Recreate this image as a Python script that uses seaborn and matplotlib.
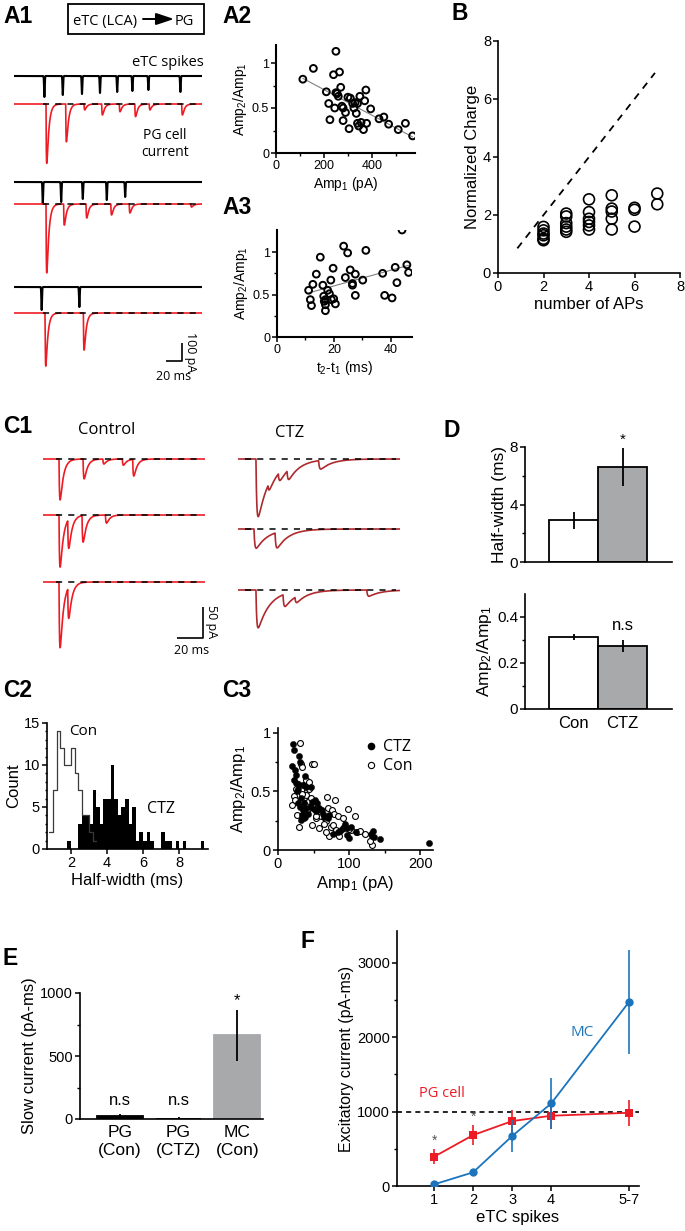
import numpy as np
import pandas as pd
import matplotlib
matplotlib.use("Agg")
import matplotlib.pyplot as plt
import seaborn as sns
from matplotlib.ticker import MultipleLocator, FixedLocator
from matplotlib.lines import Line2D
from matplotlib.patches import Rectangle

# ---------------------------------------------------------------- data
# A1: eTC spikes (black) and PG cell EPSCs (red), three sweeps
a1_spike_times = [[38, 61, 85, 107.5, 129, 148, 168, 208],
                  [36, 59, 86, 116, 139],
                  [34.6, 81.7]]
a1_spike_size = [[21, 19, 18, 17, 16, 15, 14, 16],
                 [22, 20, 17, 18, 15],
                 [23, 20]]
a1_epsc_times = [[40, 64.6, 87.5, 109.6, 131.6, 151, 169, 209.6],
                 [40, 62, 90, 121, 144, 221],
                 [38.75, 86.7]]
a1_epsc_amps = [[330, 210, 33, 61, 43, 70, 33, 61],
                [383, 117, 78, 61, 50, 17],
                [295, 206]]

# A2
a2_amp1 = [112, 156, 250, 240, 265, 270, 250, 255, 210, 220, 245, 225, 275, 280,
           300, 310, 290, 280, 305, 325, 330, 335, 340, 345, 350, 355, 365, 370,
           375, 378, 395, 320, 430, 450, 470, 510, 540, 570, 340, 260]
a2_ratio = [0.82, 0.94, 1.13, 0.87, 0.90, 0.73, 0.67, 0.66, 0.68, 0.55, 0.50, 0.37,
            0.52, 0.50, 0.62, 0.61, 0.45, 0.36, 0.27, 0.50, 0.56, 0.44, 0.33, 0.30,
            0.63, 0.34, 0.26, 0.58, 0.70, 0.33, 0.49, 0.55, 0.38, 0.40, 0.32, 0.26,
            0.33, 0.19, 0.55, 0.63]

# A3
a3_dt = [11.1, 11.7, 12.1, 12.6, 13.8, 15.2, 16.1, 16.4, 17.0, 17.0, 17.0, 17.8,
         18.4, 18.9, 19.1, 19.9, 19.7, 20.5, 16.6, 23.4, 24.0, 24.8, 25.7, 26.5,
         26.5, 27.5, 27.5, 30.1, 31.2, 37.1, 37.8, 40.4, 41.5, 42.1, 43.9, 45.6, 46.2]
a3_ratio = [0.55, 0.44, 0.37, 0.62, 0.74, 0.94, 0.61, 0.48, 0.44, 0.38, 0.31, 0.55,
            0.51, 0.67, 0.44, 0.45, 0.81, 0.39, 0.42, 1.07, 0.70, 0.99, 0.79, 0.63,
            0.61, 0.74, 0.49, 0.67, 1.02, 0.75, 0.49, 0.46, 0.82, 0.64, 1.26, 0.85, 0.76]

# B
b_naps = [2, 2, 2, 2, 2, 2, 3, 3, 3, 3, 3, 3, 4, 4, 4, 4, 4, 4, 5, 5, 5, 5, 5, 6, 6, 6, 7, 7]
b_charge = [1.59, 1.47, 1.36, 1.30, 1.18, 1.13, 2.05, 1.95, 1.72, 1.60, 1.50, 1.42,
            2.54, 2.10, 1.87, 1.76, 1.64, 1.50, 2.68, 2.22, 2.12, 1.87, 1.50,
            2.25, 2.18, 1.60, 2.74, 2.37]
b_linear = [0.85, 6.9]

# C1: EPSC events (ms, pA)
ctl_times = [[12.3, 30.8, 46, 61, 69], [12.3, 19, 30, 48], [12.3, 19]]
ctl_amps = [[66, 32, 8, 10, 27], [84, 47, 43, 13], [106, 50]]
ctz_times = [[13.8, 23, 31, 37.7, 62], [12.3, 28.5], [13.8, 34.6, 43.8, 99]]
ctz_amps = [[93, 12, 14, 16, 14], [31, 25], [61, 20, 10, 10]]
ctl_tau = (0.4, 2.5)
ctz_tau = (0.6, 9.0)

# C2: half-width histograms (0.2 ms bins)
bin_width = 0.2
con_bin_start = 0.8
con_counts = [2, 7, 14, 12, 10, 10, 12, 9, 7, 4, 4, 2, 1]
ctz_bin_start = 1.8
ctz_counts = [1, 0, 0, 3, 4, 4, 3, 7, 5, 3, 6, 6, 10, 6, 4, 5, 6, 3, 5, 1, 2, 1, 2,
              1, 0, 0, 2, 1, 1, 0, 1, 0, 1, 0, 0, 0, 0, 1]

# C3
c3_ctz_amp1 = [21, 22, 20, 24, 25, 22, 29, 31, 38, 26, 30, 28, 27, 35, 40, 47, 33,
               36, 28, 31, 35, 40, 45, 42, 34, 37, 32, 38, 48, 52, 55, 58, 50, 53,
               62, 63, 65, 70, 72, 77, 84, 87, 90, 93, 97, 100, 102, 110, 131, 132,
               135, 133, 143, 212, 97, 94]
c3_ctz_ratio = [0.90, 0.85, 0.72, 0.68, 0.64, 0.60, 0.80, 0.75, 0.63, 0.57, 0.55,
                0.52, 0.50, 0.55, 0.54, 0.54, 0.44, 0.40, 0.40, 0.37, 0.34, 0.36,
                0.37, 0.31, 0.30, 0.27, 0.26, 0.28, 0.41, 0.43, 0.40, 0.36, 0.35,
                0.33, 0.34, 0.31, 0.28, 0.27, 0.30, 0.14, 0.15, 0.16, 0.18, 0.19,
                0.13, 0.10, 0.20, 0.15, 0.14, 0.12, 0.11, 0.16, 0.09, 0.06, 0.19, 0.22]
c3_con_amp1 = [19, 22, 24, 27, 30, 31, 33, 34, 28, 36, 41, 43, 48, 50, 38, 40, 44,
               46, 52, 55, 58, 61, 64, 54, 60, 66, 68, 69, 80, 71, 76, 79, 85, 91,
               98, 108, 74, 78, 82, 72, 86, 102, 111, 115, 123, 132, 130, 58, 48,
               64, 93, 100, 34, 26, 39, 44, 36, 42, 53, 68]
c3_con_ratio = [0.38, 0.46, 0.43, 0.30, 0.20, 0.91, 0.73, 0.71, 0.56, 0.55, 0.51,
                0.52, 0.73, 0.73, 0.45, 0.47, 0.42, 0.44, 0.37, 0.36, 0.33, 0.31,
                0.29, 0.27, 0.29, 0.27, 0.25, 0.45, 0.43, 0.36, 0.34, 0.31, 0.29,
                0.27, 0.35, 0.29, 0.20, 0.21, 0.17, 0.12, 0.12, 0.17, 0.15, 0.16,
                0.14, 0.04, 0.08, 0.19, 0.21, 0.22, 0.20, 0.18, 0.48, 0.52, 0.60,
                0.58, 0.34, 0.35, 0.29, 0.15]

# D
d_groups = ["Con", "CTZ"]
d_halfwidth = [2.9, 6.6]
d_halfwidth_err = [0.6, 1.3]
d_ratio = [0.313, 0.274]
d_ratio_err = [0.015, 0.028]

# E
e_groups = ["PG\n(Con)", "PG\n(CTZ)", "MC\n(Con)"]
e_slow = [20, 2, 663]
e_slow_err = [20, 15, 205]
e_marks = ["n.s", "n.s", "*"]

# F
f_labels = ["1", "2", "3", "4", "5-7"]
f_pos = [1, 2, 3, 4, 6]
f_pg = [394, 685, 873, 945, 985]
f_pg_err = [100, 135, 150, 180, 175]
f_mc = [22, 184, 672, 1110, 2480]
f_mc_err = [30, 40, 220, 340, 700]
f_ref = 1000

# ---------------------------------------------------------------- style
W, H = 685, 1231
sns.set_theme(style="ticks")
plt.rcParams["font.family"] = ["Liberation Sans", "DejaVu Sans"]
plt.rcParams.update({
    "mathtext.fontset": "custom",
    "mathtext.rm": "Liberation Sans",
    "mathtext.it": "Liberation Sans:italic",
    "mathtext.bf": "Liberation Sans:bold",
    "axes.edgecolor": "black", "axes.linewidth": 1.2,
    "xtick.color": "black", "ytick.color": "black",
    "xtick.major.width": 1.1, "ytick.major.width": 1.1,
    "xtick.minor.width": 1.0, "ytick.minor.width": 1.0,
    "xtick.major.size": 3.5, "ytick.major.size": 3.5,
    "xtick.minor.size": 2.0, "ytick.minor.size": 2.0,
    "xtick.major.pad": 1.5, "ytick.major.pad": 1.5,
    "axes.labelcolor": "black", "text.color": "black",
    "axes.labelpad": 2.0,
})
SANS2 = ["Open Sans", "DejaVu Sans"]
RED = "#ed1c24"
DRED = "#ad2a2e"
BLUE = "#1c75bc"
GRAY = "#a7a9ac"

fig = plt.figure(figsize=(W / 100, H / 100), dpi=100)


def px_axes(l, t, r, b):
    return fig.add_axes([l / W, 1 - b / H, (r - l) / W, (b - t) / H])


def style(ax, ls=9.5):
    sns.despine(ax=ax)
    ax.set_facecolor("none")
    ax.tick_params(labelsize=ls, which="both", direction="out")


# overlay in pixel coordinates for panel letters, scale bars, annotations
ov = fig.add_axes([0, 0, 1, 1], zorder=10)
ov.set_xlim(0, W)
ov.set_ylim(H, 0)
ov.axis("off")
ov.patch.set_alpha(0)

for lab, x, y in [("A1", 3, 23), ("A2", 222, 23), ("B", 452, 20), ("A3", 222, 214),
                  ("C1", 3, 433), ("D", 444, 437), ("C2", 3, 697), ("C3", 222, 697),
                  ("E", 3, 965), ("F", 301, 948)]:
    ov.text(x, y, lab, fontsize=16.5, fontweight="bold", va="baseline", ha="left")


# ---------------------------------------------------------------- traces
def kernel(t, t0, tr, td):
    s = t - t0
    out = np.zeros_like(t)
    m = s >= 0
    tp = tr * td / (td - tr) * np.log(td / tr)
    norm = np.exp(-tp / td) - np.exp(-tp / tr)
    out[m] = (np.exp(-s[m] / td) - np.exp(-s[m] / tr)) / norm
    return out


def trace_ax(x0, x1, tspan, ybase, per_px, up, down):
    ax = px_axes(x0, ybase - up, x1, ybase + down)
    ax.set_xlim(0, tspan)
    ax.set_ylim(-down * per_px, up * per_px)
    ax.axis("off")
    ax.patch.set_alpha(0)
    return ax


# A1
a1_span = 235.0
t1 = np.arange(0, a1_span, 0.1)
black_base = [76, 182, 287]
red_base = [104, 204, 313]
for i in range(3):
    axb = trace_ax(14, 202, a1_span, black_base[i], 1.0, 6, 28)
    yb = np.zeros_like(t1)
    for ts, sz in zip(a1_spike_times[i], a1_spike_size[i]):
        yb -= sz * np.exp(-((t1 - ts) / 0.6) ** 2)
    axb.plot(t1, yb, color="black", lw=1.5)
    axr = trace_ax(14, 202, a1_span, red_base[i], 100 / 18, 6, 75)
    yr = np.zeros_like(t1)
    for te, am in zip(a1_epsc_times[i], a1_epsc_amps[i]):
        yr -= am * kernel(t1, te, 0.45, 2.6)
    axr.plot(t1, yr, color=RED, lw=1.2)
    axr.plot([36, a1_span], [0, 0], color="black", lw=1.1, ls=(0, (4, 4)))

# A1 header box
ov.add_patch(Rectangle((68, 4), 136, 30, fill=False, lw=1.3, ec="black"))
ov.text(73, 25, "eTC (LCA)", fontsize=10.5, family=SANS2, va="baseline")
ov.annotate("", xy=(174, 19), xytext=(143, 19),
            arrowprops=dict(arrowstyle="-|>,head_length=0.9,head_width=0.3",
                            lw=1.4, color="black", shrinkA=0, shrinkB=0))
ov.text(175, 25, "PG", fontsize=10.5, family=SANS2, va="baseline")
ov.text(204, 66, "eTC spikes", fontsize=10.5, family=SANS2, va="baseline", ha="right")
ov.text(165, 139, "PG cell", fontsize=10, family=SANS2, va="baseline", ha="center")
ov.text(165, 156, "current", fontsize=10, family=SANS2, va="baseline", ha="center")
# A1 scale bar
ov.plot([182, 182, 166], [343, 361, 361], color="black", lw=1.2, solid_capstyle="butt")
ov.text(191, 352, "100 pA", rotation=270, fontsize=9, family=SANS2, va="center", ha="center")
ov.text(174, 377, "20 ms", fontsize=9, family=SANS2, va="center", ha="center")

# C1
c1_span = 162 / 1.3
tc = np.arange(0, c1_span, 0.05)
ctl_base = [459, 515, 582]
ctz_base = [459, 529, 590]
for i in range(3):
    ax = trace_ax(43, 205, c1_span, ctl_base[i], 50 / 31, 6, 70)
    y = np.zeros_like(tc)
    for te, am in zip(ctl_times[i], ctl_amps[i]):
        y -= am * kernel(tc, te, *ctl_tau)
    ax.plot(tc, y, color=RED, lw=1.2)
    ax.plot([10, c1_span - 3], [0, 0], color="black", lw=1.1, ls=(0, (4, 4)))
    ax = trace_ax(238, 400, c1_span, ctz_base[i], 50 / 31, 6, 70)
    y = np.zeros_like(tc)
    for te, am in zip(ctz_times[i], ctz_amps[i]):
        y -= am * kernel(tc, te, *ctz_tau)
    ax.plot(tc, y, color=DRED, lw=1.2)
    ax.plot([5, c1_span - 3], [0, 0], color="black", lw=1.1, ls=(0, (4, 4)))

ov.text(78, 434, "Control", fontsize=12, family=SANS2, va="baseline")
ov.text(275, 437, "CTZ", fontsize=12, family=SANS2, va="baseline")
ov.plot([203, 203, 177], [607, 638, 638], color="black", lw=1.2, solid_capstyle="butt")
ov.text(212, 622, "50 pA", rotation=270, fontsize=9, family=SANS2, va="center", ha="center")
ov.text(192, 650, "20 ms", fontsize=9, family=SANS2, va="center", ha="center")

# ---------------------------------------------------------------- A2
ax = px_axes(276, 45, 415, 153)
sns.regplot(x=a2_amp1, y=a2_ratio, ax=ax, ci=None, scatter=False, truncate=True,
            line_kws=dict(color="#808080", lw=0.8))
sns.scatterplot(x=a2_amp1, y=a2_ratio, ax=ax, s=24, facecolors="none",
                edgecolor="black", linewidth=1.4, zorder=3)
ax.set_xlim(0, 580)
ax.set_ylim(0, 1.2)
ax.set_xticks([0, 200, 400])
ax.xaxis.set_minor_locator(FixedLocator([100, 300, 500]))
ax.set_yticks([0, 0.5, 1], ["0", "0.5", "1"])
ax.yaxis.set_minor_locator(FixedLocator([0.25, 0.75]))
ax.set_xlabel(r"Amp$_1$ (pA)", fontsize=10)
ax.set_ylabel(r"Amp$_2$/Amp$_1$", fontsize=10)
style(ax, 9)
for s in ["left", "bottom"]:
    ax.spines[s].set_linewidth(1.5)

# ---------------------------------------------------------------- A3
ax = px_axes(277, 230, 412, 337)
sns.regplot(x=a3_dt, y=a3_ratio, ax=ax, ci=None, scatter=False, truncate=True,
            line_kws=dict(color="#808080", lw=0.8))
sns.scatterplot(x=a3_dt, y=a3_ratio, ax=ax, s=24, facecolors="none",
                edgecolor="black", linewidth=1.4, zorder=3)
ax.set_xlim(0, 47.4)
ax.set_ylim(0, 1.26)
ax.set_xticks([0, 20, 40])
ax.xaxis.set_minor_locator(FixedLocator([10, 30]))
ax.set_yticks([0, 0.5, 1], ["0", "0.5", "1"])
ax.yaxis.set_minor_locator(FixedLocator([0.25, 0.75]))
ax.set_xlabel(r"t$_2$-t$_1$ (ms)", fontsize=10)
ax.set_ylabel(r"Amp$_2$/Amp$_1$", fontsize=10)
style(ax, 9)
for s in ["left", "bottom"]:
    ax.spines[s].set_linewidth(1.5)

# ---------------------------------------------------------------- B
ax = px_axes(498, 41, 680, 273)
ax.plot(b_linear, b_linear, color="black", lw=1.3, ls=(0, (4, 3.5)))
sns.scatterplot(x=b_naps, y=b_charge, ax=ax, s=62, facecolors="none",
                edgecolor="black", linewidth=1.2, zorder=3)
ax.set_xlim(0, 8)
ax.set_ylim(0, 8)
ax.set_xticks([0, 2, 4, 6, 8])
ax.set_yticks([0, 2, 4, 6, 8])
ax.set_xlabel("number of APs", fontsize=12)
ax.set_ylabel("Normalized Charge", fontsize=12)
style(ax, 10.5)

# ---------------------------------------------------------------- D
ax = px_axes(525, 447, 672, 562)
sns.barplot(x=d_groups, y=d_halfwidth, hue=d_groups, palette=["white", GRAY],
            edgecolor="black", linewidth=1.3, width=1.0, legend=False, ax=ax)
ax.errorbar(x=[0, 1], y=d_halfwidth, yerr=d_halfwidth_err, fmt="none",
            ecolor="black", elinewidth=1.3, capsize=0)
ax.text(1, 8.0, "*", ha="center", va="bottom", fontsize=11)
ax.set_xlim(-0.99, 2.01)
ax.set_ylim(0, 8)
ax.set_yticks([0, 4, 8])
ax.yaxis.set_minor_locator(FixedLocator([2, 6]))
ax.set_xticks([])
ax.set_ylabel("Half-width (ms)", fontsize=12.5)
ax.set_xlabel("")
style(ax, 11)

ax = px_axes(525, 594, 672, 709)
sns.barplot(x=d_groups, y=d_ratio, hue=d_groups, palette=["white", GRAY],
            edgecolor="black", linewidth=1.3, width=1.0, legend=False, ax=ax)
ax.errorbar(x=[0, 1], y=d_ratio, yerr=d_ratio_err, fmt="none",
            ecolor="black", elinewidth=1.3, capsize=0)
ax.text(1, 0.33, "n.s", ha="center", va="bottom", fontsize=12)
ax.set_xlim(-0.99, 2.01)
ax.set_ylim(0, 0.5)
ax.set_yticks([0, 0.2, 0.4], ["0", "0.2", "0.4"])
ax.yaxis.set_minor_locator(FixedLocator([0.1, 0.3]))
ax.set_xticks([0, 1], d_groups)
ax.set_ylabel(r"Amp$_2$/Amp$_1$", fontsize=12.5)
ax.set_xlabel("")
style(ax, 11)
ax.tick_params(axis="x", length=0, pad=5, labelsize=12)

# ---------------------------------------------------------------- C2
ax = px_axes(47, 723, 208, 849)
ctz_edges = [round(ctz_bin_start + bin_width * k, 3) for k in range(len(ctz_counts) + 1)]
con_edges = [round(con_bin_start + bin_width * k, 3) for k in range(len(con_counts) + 1)]
ctz_df = pd.DataFrame({"hw": [e + bin_width / 2 for e in ctz_edges[:-1]], "n": ctz_counts})
con_df = pd.DataFrame({"hw": [e + bin_width / 2 for e in con_edges[:-1]], "n": con_counts})
sns.histplot(data=ctz_df, x="hw", weights="n", bins=ctz_edges,
             element="bars", color="black", edgecolor="black", linewidth=0,
             alpha=1, ax=ax)
sns.histplot(data=con_df, x="hw", weights="n", bins=con_edges,
             element="step", fill=False, color="#3a3a3a", linewidth=0.9, ax=ax)
ax.set_xlim(0.67, 9.6)
ax.set_ylim(0, 15)
ax.set_xticks([2, 4, 6, 8])
ax.set_yticks([0, 5, 10, 15])
ax.yaxis.set_minor_locator(MultipleLocator(1))
ax.set_xlabel("Half-width (ms)", fontsize=12)
ax.set_ylabel("Count", fontsize=12)
style(ax, 10.5)
ax.tick_params(axis="y", which="minor", length=1.5)
ov.text(69, 735, "Con", fontsize=11, family=SANS2, va="baseline")
ov.text(147, 813, "CTZ", fontsize=11.5, family=SANS2, va="baseline")

# ---------------------------------------------------------------- C3
ax = px_axes(278, 728, 433, 850)
sns.scatterplot(x=c3_con_amp1, y=c3_con_ratio, ax=ax, s=18, color="white",
                edgecolor="black", linewidth=0.8, zorder=3)
sns.scatterplot(x=c3_ctz_amp1, y=c3_ctz_ratio, ax=ax, s=20, color="black",
                edgecolor="black", linewidth=0.3, zorder=4)
ax.set_xlim(0, 218)
ax.set_ylim(0, 1.04)
ax.set_xticks([0, 100, 200])
ax.xaxis.set_minor_locator(FixedLocator([50, 150]))
ax.set_yticks([0, 0.5, 1], ["0", "0.5", "1"])
ax.yaxis.set_minor_locator(FixedLocator([0.25, 0.75]))
ax.set_xlabel(r"Amp$_1$ (pA)", fontsize=12)
ax.set_ylabel(r"Amp$_2$/Amp$_1$", fontsize=12)
style(ax, 10.5)
hs = [Line2D([], [], ls="", marker="o", ms=4.5, mfc="black", mec="black"),
      Line2D([], [], ls="", marker="o", ms=4.5, mfc="white", mec="black", mew=0.8)]
leg = ax.legend(hs, ["CTZ", "Con"], loc="upper left", bbox_to_anchor=(0.52, 0.96),
                frameon=False, handlelength=0.8, handletextpad=0.3, labelspacing=0.2,
                prop=dict(family=SANS2, size=11.5), borderaxespad=0)

# ---------------------------------------------------------------- E
ax = px_axes(80, 993, 263, 1119)
sns.barplot(x=e_groups, y=e_slow, hue=e_groups, palette=["black", "white", GRAY],
            width=0.78, linewidth=1.3, edgecolor="black", legend=False, ax=ax)
ax.patches[2].set_edgecolor(GRAY)
ax.errorbar(x=[0, 1, 2], y=e_slow, yerr=e_slow_err, fmt="none", ecolor="black",
            elinewidth=1.3, capsize=0, zorder=4)
for i, m in enumerate(e_marks):
    yy = 90 if m == "n.s" else e_slow[i] + e_slow_err[i] + 10
    ax.text(i, yy, m, ha="center", va="bottom", fontsize=12)
ax.set_xlim(-0.68, 2.44)
ax.set_ylim(0, 1000)
ax.set_yticks([0, 500, 1000])
ax.yaxis.set_minor_locator(FixedLocator([250, 750]))
ax.set_ylabel("Slow current (pA-ms)", fontsize=12)
ax.set_xlabel("")
style(ax, 10.5)
ax.tick_params(axis="x", length=0, pad=4, labelsize=12.5)
for lab in ax.get_xticklabels():
    lab.set_linespacing(1.25)

# ---------------------------------------------------------------- F
ax = px_axes(397, 931, 639, 1186)
ax.axhline(f_ref, color="black", lw=1.2, ls=(0, (3, 2.5)), zorder=1)
ax.errorbar(f_pos, f_pg, yerr=f_pg_err, fmt="none", ecolor=RED, elinewidth=1.2,
            capsize=0, zorder=2)
sns.lineplot(x=f_pos, y=f_pg, ax=ax, color=RED, lw=1.3, marker="s", markersize=6,
             markeredgewidth=0, zorder=3)
ax.errorbar(f_pos, f_mc, yerr=f_mc_err, fmt="none", ecolor=BLUE, elinewidth=1.2,
            capsize=0, zorder=4)
sns.lineplot(x=f_pos, y=f_mc, ax=ax, color=BLUE, lw=1.3, marker="o", markersize=6,
             markeredgewidth=0, zorder=5)
ax.text(1, f_pg[0] + f_pg_err[0] + 20, "*", ha="center", va="bottom", fontsize=10,
        color="#555555")
ax.text(2, f_pg[1] + f_pg_err[1] + 20, "*", ha="center", va="bottom", fontsize=10,
        color="#555555")
ax.text(4.8, 2060, "MC", color=BLUE, fontsize=11, family=SANS2, ha="center", va="center")
ax.text(1.2, 1250, "PG cell", color=RED, fontsize=10.5, family=SANS2, ha="center",
        va="center")
ax.set_xlim(0.05, 6.25)
ax.set_ylim(0, 3430)
ax.set_xticks(f_pos, f_labels)
ax.set_yticks([0, 1000, 2000, 3000])
ax.yaxis.set_minor_locator(FixedLocator([500, 1500, 2500]))
ax.set_xlabel("eTC spikes", fontsize=12)
ax.set_ylabel("Excitatory current (pA-ms)", fontsize=11.5)
style(ax, 10.5)

fig.savefig("out.png", dpi=100)
